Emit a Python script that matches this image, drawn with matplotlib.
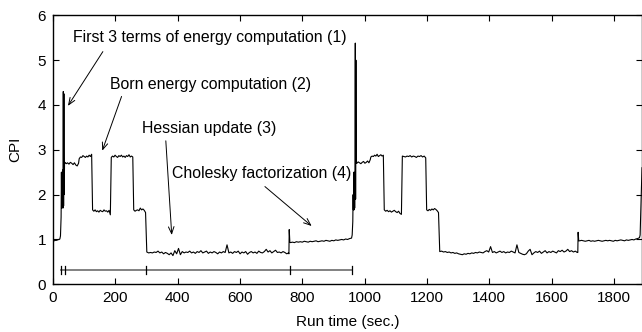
import numpy as np
import matplotlib
matplotlib.use("Agg")
import matplotlib.pyplot as plt

plt.rcParams['font.family'] = ['Liberation Sans', 'DejaVu Sans']
FS = 11
FS_ANN = 11.4

# ---- data: plateau segments (start time, end time, CPI samples) ----
seg_start_cpi = [0.97, 0.97, 0.98, 0.98, 0.99, 1.00, 1.01]
burst1_t = [24, 26, 27, 28, 29, 30, 31, 32, 33, 34, 35, 36, 37]
burst1_v = [1.08, 1.5, 2.5, 1.7, 2.5, 1.72, 2.55, 1.7, 4.3, 1.75, 4.25, 2.0, 2.7]
p1_a = [2.72, 2.69, 2.71, 2.68, 2.72, 2.70, 2.67, 2.71, 2.66, 2.64, 2.70]
p1_b = [2.80, 2.84, 2.83, 2.87, 2.85, 2.83, 2.86, 2.84, 2.88, 2.85, 2.90]
p1_c = [1.66, 1.63, 1.66, 1.62, 1.64, 1.61, 1.65, 1.63, 1.62, 1.66, 1.63, 1.64, 1.61, 1.65, 1.55]
p1_d = [2.83, 2.86, 2.84, 2.88, 2.85, 2.83, 2.87, 2.85, 2.88, 2.84, 2.86, 2.83, 2.87, 2.85, 2.89, 2.84, 2.86, 2.84]
p1_e = [1.66, 1.63, 1.65, 1.66, 1.64, 1.70, 1.66, 1.68, 1.65, 1.60]
p1_low = [0.72, 0.70, 0.71, 0.70, 0.72, 0.71, 0.74, 0.70, 0.72, 0.68, 0.71, 0.69, 0.66, 0.70, 0.64,
          0.75, 0.68, 0.80, 0.66, 0.73, 0.70, 0.72, 0.71, 0.74, 0.70, 0.72, 0.69, 0.73, 0.71, 0.75,
          0.70, 0.72, 0.74, 0.69, 0.72, 0.70, 0.73, 0.71, 0.68, 0.72, 0.70, 0.73, 0.71, 0.88, 0.70,
          0.72, 0.69, 0.73, 0.71, 0.74, 0.68, 0.72, 0.70, 0.73, 0.67, 0.71, 0.73, 0.70, 0.72, 0.69,
          0.74, 0.71, 0.70, 0.73, 0.78, 0.72, 0.75, 0.70, 0.73, 0.76, 0.71, 0.72, 0.70, 0.73, 0.71,
          0.68, 0.70]
jump1_t = [757, 758, 760]
jump1_v = [0.68, 1.22, 0.94]
p1_chol = [0.93, 0.94, 0.93, 0.95, 0.94, 0.95, 0.94, 0.96, 0.95, 0.94, 0.96, 0.95, 0.96, 0.97, 0.95,
           0.96, 0.97, 0.96, 0.98, 0.97, 0.96, 0.98, 0.97, 0.99, 0.98, 0.99, 1.00, 0.99, 1.01, 1.00,
           1.02, 1.03]
burst2_t = [960, 962, 963, 964, 965, 966, 967, 968, 969, 970, 971, 972, 973]
burst2_v = [1.10, 1.4, 2.0, 1.66, 2.5, 1.66, 2.5, 1.7, 2.6, 5.38, 1.9, 5.0, 2.7]
p2_a = [2.70, 2.73, 2.71, 2.69, 2.72, 2.74, 2.70, 2.72, 2.75, 2.71, 2.78]
p2_b = [2.84, 2.86, 2.85, 2.88, 2.86, 2.90, 2.85, 2.87, 2.89, 2.86, 2.88]
p2_c = [1.66, 1.63, 1.65, 1.62, 1.64, 1.61, 1.63, 1.65, 1.62, 1.60, 1.63, 1.58, 1.56]
p2_d = [2.86, 2.85, 2.84, 2.86, 2.85, 2.87, 2.84, 2.86, 2.85, 2.83, 2.86, 2.85, 2.87, 2.84, 2.86, 2.82]
p2_e = [1.66, 1.64, 1.67, 1.65, 1.68, 1.66, 1.69, 1.67, 1.64, 1.60]
p2_low = [0.73, 0.74, 0.72, 0.73, 0.71, 0.72, 0.70, 0.71, 0.69, 0.70, 0.68, 0.67, 0.66, 0.68, 0.67,
          0.69, 0.68, 0.70, 0.69, 0.71, 0.70, 0.72, 0.71, 0.70, 0.73, 0.75, 0.72, 0.84, 0.71, 0.73,
          0.70, 0.72, 0.74, 0.71, 0.73, 0.70, 0.72, 0.71, 0.74, 0.72, 0.70, 0.88, 0.71, 0.69, 0.67,
          0.66, 0.68, 0.74, 0.78, 0.66, 0.70, 0.73, 0.71, 0.74, 0.69, 0.72, 0.75, 0.70, 0.73, 0.71,
          0.74, 0.72, 0.70, 0.75, 0.73, 0.76, 0.72, 0.74, 0.78, 0.73, 0.75, 0.72, 0.74, 0.71]
jump2_t = [1684, 1685, 1687]
jump2_v = [0.71, 1.16, 0.97]
p2_chol = [0.97, 0.98, 0.97, 0.96, 0.97, 0.98, 0.96, 0.97, 0.96, 0.97, 0.98, 0.97, 0.96, 0.97, 0.98,
           0.97, 0.98, 0.97, 0.96, 0.98, 0.97, 0.98, 0.99, 0.98, 0.97, 0.99, 0.98, 0.99, 1.00, 0.99,
           1.01, 1.02, 1.04]
end_t = [1884, 1886, 1888, 1890]
end_v = [1.10, 1.60, 2.10, 2.60]

plateaus = [
    ((0, 22), seg_start_cpi),
    (burst1_t, burst1_v),
    ((38, 82), p1_a),
    ((84, 124), p1_b),
    ((127, 184), p1_c),
    ((187, 256), p1_d),
    ((259, 297), p1_e),
    ((301, 756), p1_low),
    (jump1_t, jump1_v),
    ((762, 958), p1_chol),
    (burst2_t, burst2_v),
    ((975, 1018), p2_a),
    ((1020, 1060), p2_b),
    ((1063, 1118), p2_c),
    ((1121, 1196), p2_d),
    ((1199, 1237), p2_e),
    ((1241, 1682), p2_low),
    (jump2_t, jump2_v),
    ((1690, 1882), p2_chol),
    (end_t, end_v),
]

time_s, cpi = [], []
for tspec, vals in plateaus:
    if isinstance(tspec, tuple):
        ts = np.linspace(tspec[0], tspec[1], len(vals))
    else:
        ts = np.asarray(tspec, dtype=float)
    time_s.extend(ts)
    cpi.extend(vals)

phase_marks = [25, 38, 299, 759, 961]
phase_bar_y = 0.32

x_ticks = [0, 200, 400, 600, 800, 1000, 1200, 1400, 1600, 1800]
y_ticks = [0, 1, 2, 3, 4, 5, 6]

annotations = [
    ("First 3 terms of energy computation (1)", (63, 5.5), (160, 5.19), (48, 3.98)),
    ("Born energy computation (2)", (183, 4.46), (220, 4.19), (158, 2.98)),
    ("Hessian update (3)", (285, 3.48), (362, 3.2), (381, 1.10)),
    ("Cholesky factorization (4)", (381, 2.48), (680, 2.18), (830, 1.30)),
]

# ---- plot ----
fig = plt.figure(figsize=(6.42, 3.32), dpi=100)
ax = fig.add_axes([53 / 642, (332 - 284.3) / 332, 1 - 53 / 642, (284.3 - 15.3) / 332])

ax.plot(time_s, cpi, color='black', lw=0.8)

ax.plot([phase_marks[0], phase_marks[-1]], [phase_bar_y, phase_bar_y], color='#777777', lw=1.3)
for m in phase_marks:
    ax.plot([m, m], [phase_bar_y - 0.09, phase_bar_y + 0.09], color='black', lw=0.9)

for text, tpos, astart, aend in annotations:
    ax.text(tpos[0], tpos[1], text, fontsize=FS_ANN, ha='left', va='center')
    ax.annotate("", xy=aend, xytext=astart,
                arrowprops=dict(arrowstyle='->,head_length=0.5,head_width=0.2', color='black', lw=0.7,
                                shrinkA=0, shrinkB=0))

ax.set_xlim(0, 1890)
ax.set_ylim(0, 6)
ax.set_xticks(x_ticks)
ax.set_yticks(y_ticks)
ax.tick_params(direction='in', length=4, width=0.8, top=True, right=True, labelsize=FS, pad=5)
for s in ax.spines.values():
    s.set_linewidth(1.0)
ax.set_xlabel("Run time (sec.)", fontsize=FS, labelpad=7)
ax.set_ylabel("CPI", fontsize=FS, labelpad=11)

fig.savefig("out.png", dpi=100)
